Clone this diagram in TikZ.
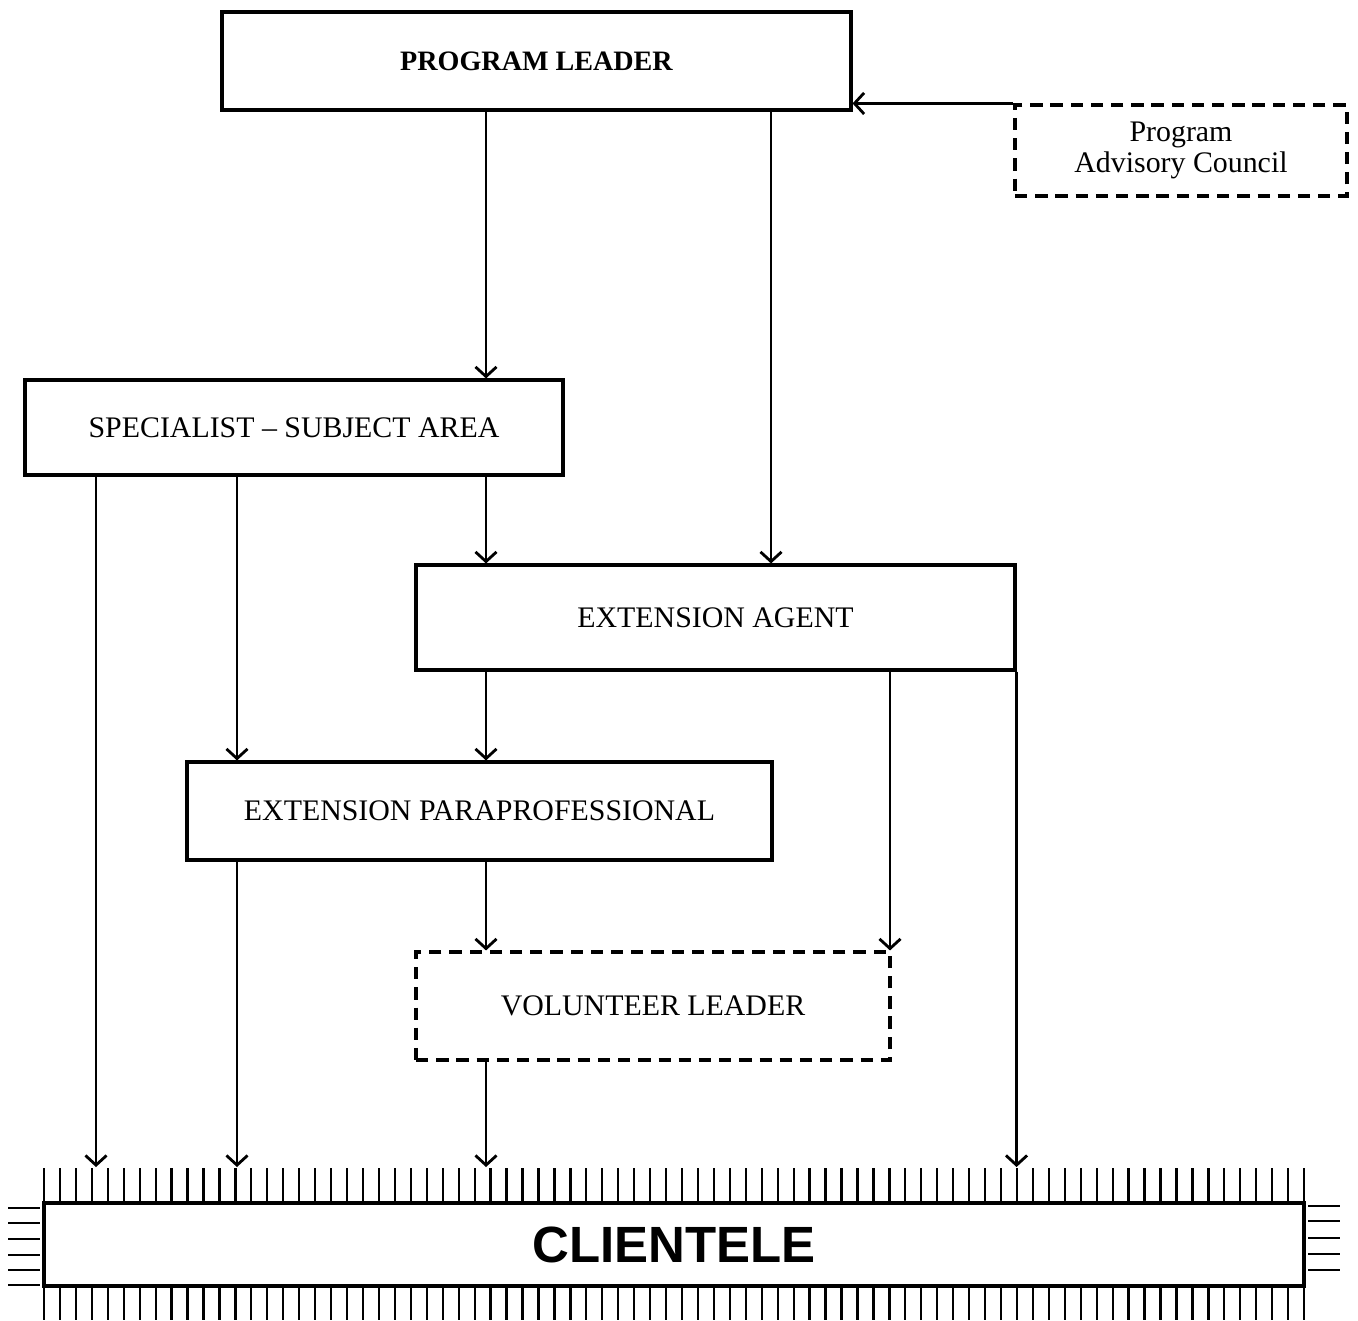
\documentclass[tikz,border=0pt]{standalone}
\usepackage{fontspec}
\setmainfont{Liberation Serif}
\newfontfamily\clientfont{Liberation Sans}
\usetikzlibrary{arrows.meta}

\begin{document}
\begin{tikzpicture}[x=0.02cm,y=-0.02cm,
  box/.style={draw, line width=1.8pt, inner sep=0pt, font=\fontsize{17}{18}\selectfont},
  dbox/.style={box, dashed, dash pattern=on 7pt off 4.5pt},
  arr/.style={line width=1.3pt, -{Straight Barb[length=5.5pt,width=12pt,line width=1.6pt]}},
  tick/.style={line width=1.3pt}]
%\draw[help lines] (0,0) grid[step=50] (1358,1320);
\useasboundingbox (0,0) rectangle (1358,1320);

 \node[box, font=\fontsize{16}{18}\selectfont\bfseries, minimum width=12.58cm, minimum height=1.96cm] (lead) at (536.5,61) {PROGRAM LEADER};
 \node[dbox, align=center, minimum width=6.64cm, minimum height=1.82cm] (council) at (1181,150.5) {Program\\Advisory Council};
 \node[box, minimum width=10.76cm, minimum height=1.9cm] (spec) at (294,427.5) {SPECIALIST -- SUBJECT AREA};
 \node[box, minimum width=11.98cm, minimum height=2.1cm] (agent) at (715.5,617.5) {EXTENSION AGENT};
 \node[box, minimum width=11.7cm, minimum height=1.96cm] (para) at (479.5,811) {EXTENSION PARAPROFESSIONAL};
 \node[dbox, minimum width=9.48cm, minimum height=2.16cm] (vol) at (653,1006) {VOLUNTEER LEADER};
 \node[box, line width=2.4pt, font=\clientfont\bfseries\fontsize{29}{34}\selectfont, minimum width=25.2cm, minimum height=1.66cm] (client) at (674,1244.5) {CLIENTELE};

 % columns of the arrows
 \coordinate (xa) at (96,0);
 \coordinate (xb) at (237,0);
 \coordinate (xc) at (486,0);
 \coordinate (xd) at (771,0);
 \coordinate (xe) at (890,0);
 \coordinate (ctop) at (0,1167);

 \draw[arr] (lead.south -| xc) -- (spec.north -| xc);
 \draw[arr] (lead.south -| xd) -- (agent.north -| xd);
 \draw[arr] (council.north west) -- (council.north west -| lead.east);
 \draw[arr] (spec.south -| xa) -- (ctop -| xa);
 \draw[arr] (spec.south -| xb) -- (para.north -| xb);
 \draw[arr] (spec.south -| xc) -- (agent.north -| xc);
 \draw[arr] (agent.south -| xc) -- (para.north -| xc);
 \draw[arr] (agent.south -| xe) -- (vol.north -| xe);
 \draw[arr] (agent.south east) -- (agent.south east |- ctop);
 \draw[arr] (para.south -| xb) -- (ctop -| xb);
 \draw[arr] (para.south -| xc) -- (vol.north -| xc);
 \draw[arr] (vol.south -| xc) -- (ctop -| xc);

 % fringe round the clientele
 \foreach \i in {0,...,79} {
  \draw[tick] (44+\i*15.95,1168) -- (44+\i*15.95,1203);
  \draw[tick] (44+\i*15.95,1286) -- (44+\i*15.95,1320);
 }
 \foreach \y in {1208,1223,1239,1255,1270,1285}
  \draw[tick] (8,\y) -- (40,\y);
 \foreach \y in {1206,1221,1238,1254,1270}
  \draw[tick] (1308,\y) -- (1340,\y);

\end{tikzpicture}
\end{document}
